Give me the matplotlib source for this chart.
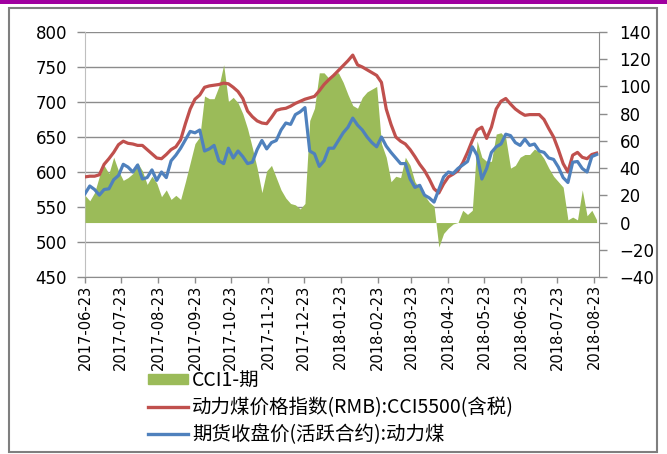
import matplotlib
matplotlib.use("Agg")
import matplotlib.pyplot as plt
import matplotlib.dates as mdates
import pandas as pd
from matplotlib.patches import Rectangle, Patch
from matplotlib.lines import Line2D
from matplotlib.font_manager import FontProperties

dates = pd.date_range("2017-06-23", periods=108, freq="4D")

# 动力煤价格指数(RMB):CCI5500(含税) - left axis
cci_index = [
    593, 594, 594, 596, 611, 619, 628, 639, 644, 641,
    640, 638, 638, 632, 626, 620, 619, 625, 632, 636,
    646, 669, 690, 704, 710, 721, 723, 724, 725, 727,
    726, 721, 715, 705, 687, 679, 673, 670, 669, 678,
    688, 690, 691, 694, 698, 701, 704, 706, 708, 716,
    725, 732, 738, 745, 752, 759, 767, 753, 750, 746,
    742, 738, 728, 690, 668, 650, 644, 640, 632, 622,
    611, 602, 590, 576, 570, 583, 593, 597, 602, 613,
    628, 645, 660, 664, 648, 664, 690, 701, 705, 697,
    690, 685, 681, 682, 682, 682, 675, 662, 650, 632,
    612, 600, 624, 628, 621, 619, 625, 627,
]

# 期货收盘价(活跃合约):动力煤 - left axis
futures_close = [
    569, 580, 575, 567, 575, 576, 589, 595, 611, 607,
    600, 610, 590, 592, 603, 588, 600, 592, 616, 624,
    634, 646, 658, 656, 660, 630, 633, 638, 616, 612,
    634, 620, 630, 622, 612, 614, 632, 645, 633, 642,
    645, 660, 670, 668, 682, 686, 692, 630, 626, 608,
    616, 634, 634, 645, 656, 664, 677, 667, 660, 650,
    642, 636, 650, 637, 628, 620, 612, 612, 590, 578,
    581, 567, 563, 557, 575, 593, 600, 598, 605, 610,
    615, 636, 624, 590, 605, 628, 636, 640, 654, 652,
    642, 638, 647, 638, 640, 630, 628, 620, 618, 607,
    592, 585, 614, 615, 605, 600, 622, 625,
]

# CCI1-期 - right axis
basis = [
    20, 16, 22, 34, 42, 36, 48, 38, 31, 33,
    36, 44, 38, 28, 34, 29, 19, 24, 17, 20,
    17, 30, 44, 58, 63, 93, 91, 91, 100, 116,
    89, 92, 88, 80, 69, 55, 40, 22, 38, 42,
    33, 24, 18, 14, 13, 10, 14, 75, 84, 110,
    110, 106, 110, 110, 103, 94, 86, 84, 92, 96,
    98, 100, 58, 48, 30, 34, 33, 48, 42, 30,
    25, 20, 15, 12, -18, -8, -4, -1, 0, 9,
    6, 9, 60, 48, 45, 45, 65, 66, 62, 40,
    42, 48, 50, 50, 54, 52, 47, 40, 34, 30,
    26, 2, 4, 2, 24, 5, 9, 2,
]

labels = ["CCI1-期", "动力煤价格指数(RMB):CCI5500(含税)", "期货收盘价(活跃合约):动力煤"]

green = "#9BBB59"
red = "#C0504D"
blue = "#4F81BD"
grid_grey = "#8C8C8C"

W, H = 667, 454
fig = plt.figure(figsize=(W / 100, H / 100), dpi=100)

# outer frame and purple strip at the top
fig.add_artist(Rectangle((0, 1 - 4 / H), 1, 4 / H, transform=fig.transFigure,
                         color="#A000A0", lw=0))
fig.add_artist(Rectangle((9 / W, 1 - 452 / H), 648 / W, 444 / H, transform=fig.transFigure,
                         fill=False, edgecolor="#7F7F7F", lw=1.5))

ax = fig.add_axes([85 / W, 1 - 277 / H, (599 - 85) / W, 245 / H])
ax_r = ax.twinx()
ax_l = ax.twinx()

# left axis with gridlines
ax.set_ylim(450, 800)
ax.set_yticks(range(450, 801, 50))
ax.grid(axis="y", color=grid_grey, lw=1)
ax.set_axisbelow(True)
ax.tick_params(axis="y", length=5.8, width=1, color=grid_grey, labelsize=12, pad=7)
ax.spines["top"].set_visible(False)
ax.spines["right"].set_visible(False)
ax.spines["left"].set_color("#BFBFBF")
ax.spines["bottom"].set_color(grid_grey)

ax.set_xlim(pd.Timestamp("2017-06-23"), pd.Timestamp("2018-08-27"))
ax.xaxis.set_major_locator(mdates.MonthLocator(bymonthday=23))
ax.xaxis.set_major_formatter(mdates.DateFormatter("%Y-%m-%d"))
ax.tick_params(axis="x", length=4.3, width=1, color=grid_grey, labelsize=10.5, pad=1,
               labelrotation=90)

# right axis: area
ax_r.fill_between(dates, 0, basis, color=green, lw=0)
ax_r.set_ylim(-40, 140)
ax_r.set_yticks(range(-40, 141, 20))
ax_r.tick_params(axis="y", length=5.8, width=1, color=grid_grey, labelsize=12, pad=9)
for s in ["left", "top", "bottom"]:
    ax_r.spines[s].set_visible(False)
ax_r.spines["right"].set_color(grid_grey)

# lines on top, same scale as left axis
ax_l.set_ylim(450, 800)
ax_l.set_yticks([])
for s in ax_l.spines.values():
    s.set_visible(False)
ax_l.plot(dates, cci_index, color=red, lw=2.3, solid_joinstyle="round")
ax_l.plot(dates, futures_close, color=blue, lw=2.3, solid_joinstyle="round")

handles = [Patch(color=green), Line2D([], [], color=red, lw=2.4), Line2D([], [], color=blue, lw=2.4)]
leg_font = FontProperties(family=["Noto Sans CJK SC", "DejaVu Sans"], size=14)
fig.legend(handles, labels, loc="upper left", bbox_to_anchor=(148 / W, 1 - 370 / H),
           frameon=False, prop=leg_font, handlelength=2.05, handleheight=0.45,
           handletextpad=0.22, labelspacing=0.3, borderpad=0, borderaxespad=0)

fig.savefig("out.png", dpi=100)
